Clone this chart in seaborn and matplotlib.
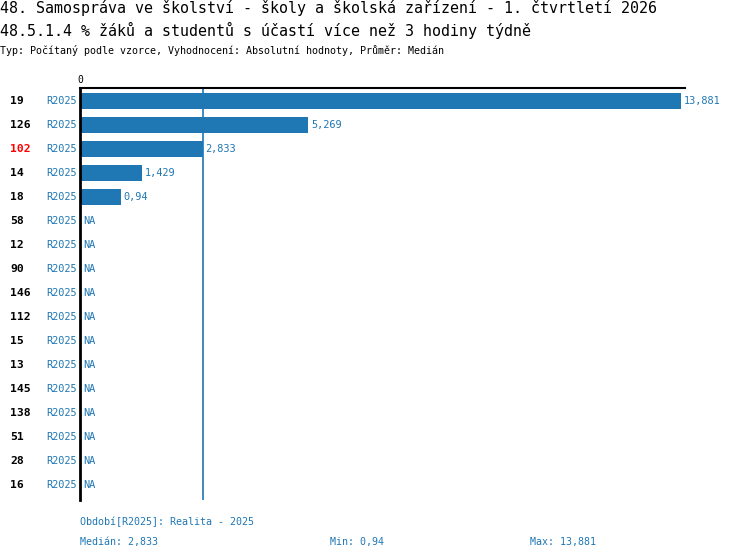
import numpy as np
import pandas as pd
import matplotlib
matplotlib.use("Agg")
import matplotlib.pyplot as plt
import seaborn as sns

# data
units = ["19", "126", "102", "14", "18", "58", "12", "90", "146", "112",
         "15", "13", "145", "138", "51", "28", "16"]
values = [13.881, 5.269, 2.833, 1.429, 0.94, np.nan, np.nan, np.nan, np.nan,
          np.nan, np.nan, np.nan, np.nan, np.nan, np.nan, np.nan, np.nan]
period = "R2025"
highlight = "102"

title1 = "48. Samospráva ve školství - školy a školská zařízení - 1. čtvrtletí 2026"
title2 = "48.5.1.4 % žáků a studentů s účastí více než 3 hodiny týdně"
subtitle = "Typ: Počítaný podle vzorce, Vyhodnocení: Absolutní hodnoty, Průměr: Medián"
period_note = "Období[R2025]: Realita - 2025"

BLUE = "#1f77b4"
MONO = ["DejaVu Sans Mono"]

sns.set_style("white")
plt.rcParams["font.family"] = MONO
plt.rcParams["text.color"] = "black"

df = pd.DataFrame({"unit": units, "value": values})
fig = plt.figure(figsize=(7.5, 5.6), dpi=100)
ax = fig.add_axes([80 / 750, 1 - 500 / 560, 605 / 750, 412 / 560])

sns.barplot(data=df.dropna(), x="value", y="unit", order=units, orient="h",
            color=BLUE, saturation=1, width=0.7, linewidth=0, ax=ax)

xmax = 605 / (601 / 13.881)
ax.set_xlim(0, xmax)
ax.set_ylim(16.625, -0.54)

# median line sits behind the bars
med = np.nanmedian(values)
ax.axvline(med, color=BLUE, lw=1.2, zorder=0.5)
for p in ax.patches:
    p.set_zorder(1)

for s in ["right", "bottom"]:
    ax.spines[s].set_visible(False)
ax.spines["left"].set_color("black")
ax.spines["left"].set_linewidth(2)
ax.spines["top"].set_color("black")
ax.spines["top"].set_linewidth(1.5)

ax.set_xlabel("")
ax.set_ylabel("")
ax.xaxis.tick_top()
ax.set_xticks([0])
ax.set_xticklabels(["0"], fontsize=7, color="black")
ax.tick_params(axis="x", length=0, pad=2)
ax.set_yticks([])

def fmt(v):
    s = f"{v:.3f}".rstrip("0").rstrip(".")
    return s.replace(".", ",")

trans = ax.get_yaxis_transform()
for i, (u, v) in enumerate(zip(units, values)):
    ax.text(-70 / 605, i, u, transform=trans, ha="left", va="center",
            fontsize=8.2, fontweight="bold",
            color="red" if u == highlight else "black")
    ax.text(-3 / 605, i, period, transform=trans, ha="right", va="center",
            fontsize=7.4, color=BLUE)
    if np.isnan(v):
        ax.annotate("NA", (0, i), xytext=(2.5, 0), textcoords="offset points",
                    ha="left", va="center", fontsize=7.4, color=BLUE)
    else:
        ax.annotate(fmt(v), (v, i), xytext=(2, 0), textcoords="offset points",
                    ha="left", va="center", fontsize=7.4, color=BLUE)

fig.text(0, 1 - 8 / 560, title1, fontsize=10.8, va="center", ha="left")
fig.text(0, 1 - 30 / 560, title2, fontsize=10.8, va="center", ha="left")
fig.text(0, 1 - 50 / 560, subtitle, fontsize=7.2, va="center", ha="left")

fig.text(80 / 750, 1 - 522 / 560, period_note, fontsize=7.2, color=BLUE, va="center")
fig.text(80 / 750, 1 - 542 / 560, f"Medián: {fmt(med)}", fontsize=7.2, color=BLUE, va="center")
fig.text(330 / 750, 1 - 542 / 560, f"Min: {fmt(np.nanmin(values))}", fontsize=7.2, color=BLUE, va="center")
fig.text(530 / 750, 1 - 542 / 560, f"Max: {fmt(np.nanmax(values))}", fontsize=7.2, color=BLUE, va="center")

fig.savefig("out.png", dpi=100)
